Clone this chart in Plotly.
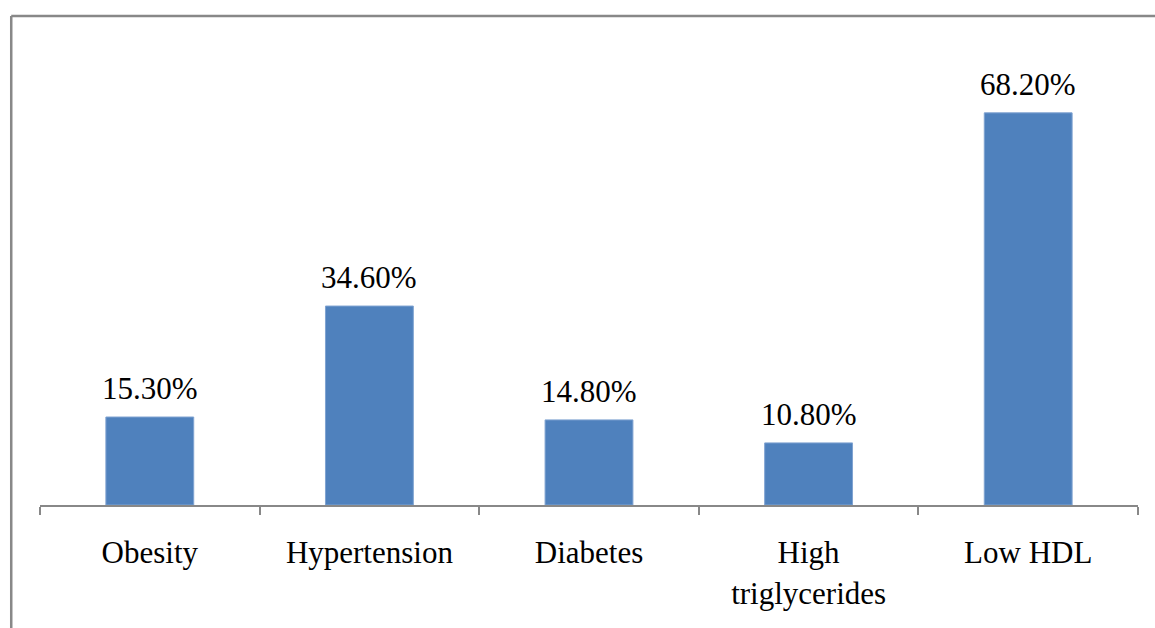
import plotly.graph_objects as go

categories = ["Obesity", "Hypertension", "Diabetes", "High<br>triglycerides", "Low HDL"]
values = [15.3, 34.6, 14.8, 10.8, 68.2]

FONT = "Liberation Serif, Times New Roman, serif"
BAR_COLOR = "#4F81BD"
GRAY = "#888888"

fig = go.Figure()
fig.add_trace(go.Bar(
    x=categories,
    y=values,
    marker=dict(color=BAR_COLOR, line=dict(color="#7fa3d1", width=1)),
    hoverinfo="skip",
))

# value labels above each bar
for cat, v in zip(categories, values):
    fig.add_annotation(
        x=cat, y=v, text=f"{v:.2f}%", showarrow=False,
        yanchor="bottom", yshift=9,
        font=dict(family=FONT, size=31, color="black"),
    )

# chart frame: left and top edges
fig.add_shape(type="line", xref="paper", yref="paper",
              x0=-0.0262, x1=1.05, y0=1.063, y1=1.063,
              line=dict(color=GRAY, width=2.5))
fig.add_shape(type="line", xref="paper", yref="paper",
              x0=-0.0262, x1=-0.0262, y0=1.063, y1=-0.4,
              line=dict(color=GRAY, width=2.5))

fig.update_layout(
    width=1155, height=628,
    margin=dict(l=40, r=17, t=45, b=123),
    paper_bgcolor="white", plot_bgcolor="white",
    bargap=0.6,
    showlegend=False,
    font=dict(family=FONT, color="black"),
    xaxis=dict(
        showline=True, linecolor=GRAY, linewidth=2,
        ticks="outside", tickson="boundaries", ticklen=8,
        tickcolor=GRAY, tickwidth=2,
        tickfont=dict(family=FONT, size=31, color="black"),
        ticklabelstandoff=19,
        showgrid=False, fixedrange=True,
    ),
    yaxis=dict(range=[0, 80], visible=False, showgrid=False, fixedrange=True),
)

fig.write_html("out.html")
